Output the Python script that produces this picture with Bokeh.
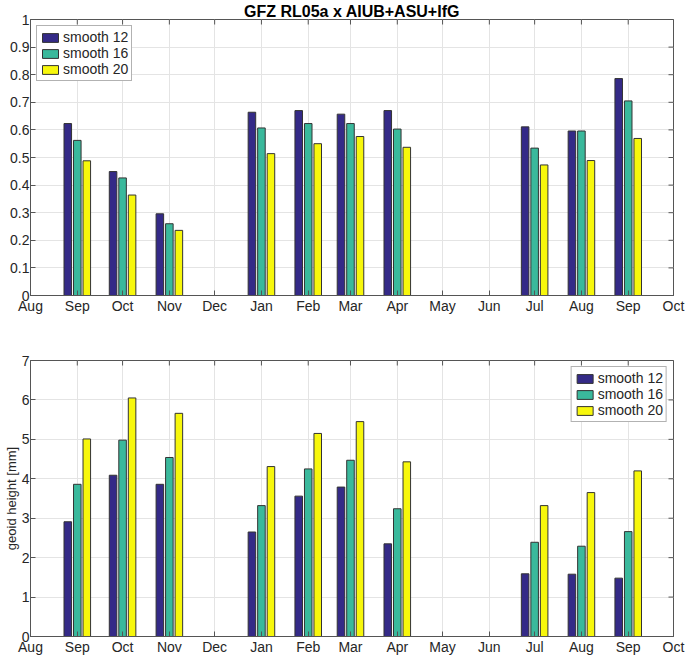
import math
import pandas as pd
from bokeh.plotting import figure
from bokeh.layouts import column
from bokeh.models import (FixedTicker, DatetimeTickFormatter, NumeralTickFormatter,
                          Legend, LegendItem, Range1d)
from bokeh.embed import file_html
from bokeh.resources import INLINE

# ---- data ----
tick_months = ["2006-08-01", "2006-09-01", "2006-10-01", "2006-11-01", "2006-12-01",
               "2007-01-01", "2007-02-01", "2007-03-01", "2007-04-01", "2007-05-01",
               "2007-06-01", "2007-07-01", "2007-08-01", "2007-09-01", "2007-10-01"]
bar_months = ["2006-09-01", "2006-10-01", "2006-11-01", "2007-01-01", "2007-02-01",
              "2007-03-01", "2007-04-01", "2007-07-01", "2007-08-01", "2007-09-01"]
series_names = ["smooth 12", "smooth 16", "smooth 20"]

top_s12 = [0.623, 0.449, 0.296, 0.664, 0.670, 0.657, 0.670, 0.611, 0.596, 0.786]
top_s16 = [0.562, 0.426, 0.260, 0.607, 0.623, 0.623, 0.603, 0.534, 0.596, 0.705]
top_s20 = [0.488, 0.364, 0.236, 0.514, 0.550, 0.576, 0.537, 0.473, 0.489, 0.569]

bot_s12 = [2.91, 4.09, 3.86, 2.65, 3.56, 3.79, 2.35, 1.59, 1.58, 1.48]
bot_s16 = [3.86, 4.98, 4.54, 3.32, 4.25, 4.47, 3.24, 2.39, 2.29, 2.66]
bot_s20 = [5.01, 6.05, 5.66, 4.31, 5.15, 5.45, 4.43, 3.32, 3.65, 4.20]

top_yticks = [0, 0.1, 0.2, 0.3, 0.4, 0.5, 0.6, 0.7, 0.8, 0.9, 1.0]
bot_yticks = [0, 1, 2, 3, 4, 5, 6, 7]

colors = ["#342a87", "#3ab99c", "#f7f70c"]
FONT = "Liberation Sans"
TXT = "#262626"
AX = "#555555"

tick_ts = pd.to_datetime(tick_months)
tick_ms = [int(t.value // 10**6) for t in tick_ts]
bar_ts = pd.to_datetime(bar_months)
DAY = 86400000
offsets = [-6.3, 0.0, 6.3]
bar_w = 5.0 * DAY


def style_axis(ax):
    ax.major_tick_in = 5
    ax.major_tick_out = 0
    ax.minor_tick_line_color = None
    ax.axis_line_color = AX
    ax.major_tick_line_color = AX
    ax.major_label_text_font = FONT
    ax.major_label_text_color = TXT
    ax.major_label_text_font_size = "14px"
    ax.major_label_standoff = 2


def make_fig(series, yticks, yfmt, height, title, legend_loc, b_top, b_bottom, ylabel=None):
    xr = Range1d(start=tick_ms[0], end=tick_ms[-1])
    ymax = yticks[-1]
    p = figure(width=685, height=height, x_axis_type="datetime", x_range=xr,
               y_range=Range1d(yticks[0], ymax), output_backend="svg", toolbar_location=None,
               min_border_left=26, min_border_right=12, min_border_top=b_top,
               min_border_bottom=b_bottom)
    p.outline_line_color = AX
    xt = FixedTicker(ticks=tick_ms)
    yt = FixedTicker(ticks=yticks)
    p.xaxis.ticker = xt
    p.xaxis.formatter = DatetimeTickFormatter(days="%b", months="%b", years="%b")
    p.yaxis.ticker = yt
    p.yaxis.formatter = yfmt
    for ax in p.xaxis + p.yaxis:
        style_axis(ax)
    p.yaxis.major_label_standoff = 1
    p.xgrid.ticker = xt
    p.ygrid.ticker = yt
    p.xgrid.grid_line_color = "#e4e4e4"
    p.ygrid.grid_line_color = "#e4e4e4"
    # inward ticks on the top and right edges of the box
    p.scatter(x=tick_ms, y=[ymax] * len(tick_ms), marker="dash", angle=math.pi / 2,
              size=10, line_color=AX, line_width=1)
    p.scatter(x=[tick_ms[-1]] * len(yticks), y=yticks, marker="dash",
              size=10, line_color=AX, line_width=1)
    if ylabel:
        p.yaxis[0].axis_label = ylabel
        p.yaxis[0].axis_label_text_font = FONT
        p.yaxis[0].axis_label_text_font_style = "normal"
        p.yaxis[0].axis_label_text_font_size = "13px"
        p.yaxis[0].axis_label_text_color = TXT
        p.yaxis[0].axis_label_standoff = 0
    if title:
        p.title.text = title
        p.title.align = "center"
        p.title.text_font = FONT
        p.title.text_font_size = "16px"
        p.title.text_font_style = "bold"
        p.title.text_color = "#000000"
        p.title.standoff = 0
    items = []
    for i, vals in enumerate(series):
        xs = [t + pd.Timedelta(days=offsets[i]) for t in bar_ts]
        r = p.vbar(x=xs, top=vals, bottom=0, width=bar_w, fill_color=colors[i],
                   line_color="#333333", line_width=1)
        items.append(LegendItem(label=series_names[i], renderers=[r]))
    leg = Legend(items=items, location=legend_loc)
    leg.label_text_font = FONT
    leg.label_text_font_size = "14px"
    leg.label_text_color = TXT
    leg.label_height = 11
    leg.glyph_height = 11
    leg.glyph_width = 20
    leg.label_standoff = 3
    leg.spacing = 0
    leg.padding = 3
    leg.margin = 6
    leg.border_line_color = "#666666"
    leg.background_fill_alpha = 1
    p.add_layout(leg, "center")
    return p


p1 = make_fig([top_s12, top_s16, top_s20], top_yticks,
              NumeralTickFormatter(format="0.[0]"), 320, "GFZ RL05a x AIUB+ASU+IfG",
              "top_left", 18, 25)
p2 = make_fig([bot_s12, bot_s16, bot_s20], bot_yticks,
              NumeralTickFormatter(format="0"), 337, None, "top_right", 40, 20,
              ylabel="geoid height [mm]")

layout = column(p1, p2, spacing=0)
open("out.html", "w").write(file_html(layout, INLINE))
